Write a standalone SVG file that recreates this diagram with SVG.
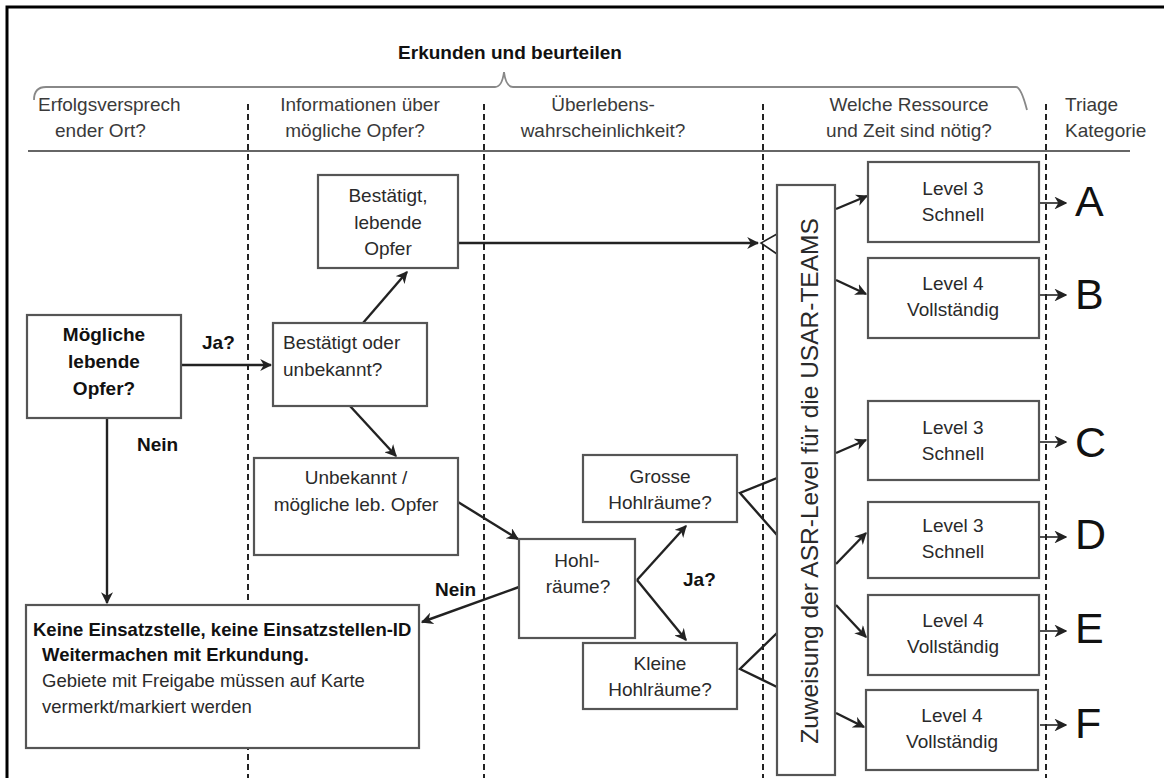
<svg xmlns="http://www.w3.org/2000/svg" width="1164" height="778" viewBox="0 0 1164 778">
<defs>
<style>
text{font-family:"Liberation Sans",Arial,sans-serif;fill:#2a2a2a;font-size:19px}
.b{font-weight:bold;fill:#111}
.m{text-anchor:middle}
.hd{fill:#3a3a3a}
.big{font-size:43px;fill:#111}
.sm{font-size:18.5px}
.vt{font-size:24.5px}
.box{fill:#fff;stroke:#555;stroke-width:2.2}
.c{fill:none;stroke:#222;stroke-width:2.4}
.t{fill:none;stroke:#222;stroke-width:1.6}
.dash{stroke:#222;stroke-width:2;stroke-dasharray:6 4;fill:none}
</style>
<marker id="ah" viewBox="0 0 10 10" refX="9" refY="5" markerWidth="5" markerHeight="5" markerUnits="strokeWidth" orient="auto">
<path d="M0,0 L10,5 L0,10 L3,5 z" fill="#222"/>
</marker>
<marker id="ah2" viewBox="0 0 10 10" refX="9" refY="5" markerWidth="8" markerHeight="8" markerUnits="strokeWidth" orient="auto">
<path d="M0,0 L10,5 L0,10 L3,5 z" fill="#222"/>
</marker>
</defs>
<rect width="1164" height="778" fill="#fff"/>
<path d="M7,778 L7,7 L1164,7" fill="none" stroke="#000" stroke-width="3"/>

<g id="header">
<text class="b m" x="510" y="59">Erkunden und beurteilen</text>
<path d="M34,100 Q34,87 46,87 L495,87 Q502,87 504,72 Q506,87 513,87 L1016,87 Q1021,87 1027,110" fill="none" stroke="#888" stroke-width="1.8"/>
<text class="hd" x="38" y="111">Erfolgsversprech</text>
<text class="hd" x="55" y="137">ender Ort?</text>
<text class="hd m" x="360" y="111">Informationen über</text>
<text class="hd m" x="355" y="137">mögliche Opfer?</text>
<text class="hd m" x="603" y="111">Überlebens-</text>
<text class="hd m" x="603" y="137">wahrscheinlichkeit?</text>
<text class="hd m" x="909" y="111">Welche Ressource</text>
<text class="hd m" x="909" y="137">und Zeit sind nötig?</text>
<text class="hd" x="1065" y="111">Triage</text>
<text class="hd" x="1065" y="137">Kategorie</text>
<line x1="28" y1="151" x2="1130" y2="151" stroke="#666" stroke-width="2"/>
</g>

<g id="lanes">
<line class="dash" x1="248" y1="104" x2="248" y2="778"/>
<line class="dash" x1="484" y1="104" x2="484" y2="778"/>
<line class="dash" x1="763" y1="104" x2="763" y2="778"/>
<line class="dash" x1="1046" y1="104" x2="1046" y2="778"/>
</g>

<g id="connectors">
<line class="c" x1="181" y1="365" x2="271" y2="365" marker-end="url(#ah)"/>
<line class="c" x1="107" y1="418" x2="107" y2="603" marker-end="url(#ah)"/>
<line class="c" x1="363" y1="323" x2="407" y2="272" marker-end="url(#ah)"/>
<line class="c" x1="350" y1="406" x2="396" y2="456" marker-end="url(#ah)"/>
<line class="c" x1="458" y1="243" x2="758" y2="243" marker-end="url(#ah)"/>
<polyline class="t" points="777,234 761,243 777,254"/>
<line class="c" x1="458" y1="502" x2="518" y2="539" marker-end="url(#ah)"/>
<line class="c" x1="519" y1="587" x2="422" y2="622" marker-end="url(#ah)"/>
<line class="c" x1="637" y1="580" x2="686" y2="526" marker-end="url(#ah)"/>
<line class="c" x1="637" y1="580" x2="686" y2="640" marker-end="url(#ah)"/>
<polyline class="c" points="777,478 740,493 777,535"/>
<polyline class="c" points="777,633 740,669 777,687"/>
<line class="c" x1="836" y1="209" x2="867" y2="196" marker-end="url(#ah)"/>
<line class="c" x1="836" y1="280" x2="866" y2="294" marker-end="url(#ah)"/>
<line class="c" x1="836" y1="453" x2="866" y2="440" marker-end="url(#ah)"/>
<line class="c" x1="836" y1="564" x2="866" y2="533" marker-end="url(#ah)"/>
<line class="c" x1="836" y1="605" x2="866" y2="637" marker-end="url(#ah)"/>
<line class="c" x1="836" y1="713" x2="864" y2="727" marker-end="url(#ah)"/>
<line class="t" x1="1040" y1="203" x2="1066" y2="203" marker-end="url(#ah2)"/>
<line class="t" x1="1040" y1="295" x2="1066" y2="295" marker-end="url(#ah2)"/>
<line class="t" x1="1040" y1="442" x2="1066" y2="442" marker-end="url(#ah2)"/>
<line class="t" x1="1040" y1="537" x2="1066" y2="537" marker-end="url(#ah2)"/>
<line class="t" x1="1040" y1="631" x2="1066" y2="631" marker-end="url(#ah2)"/>
<line class="t" x1="1040" y1="725" x2="1066" y2="725" marker-end="url(#ah2)"/>
<text class="b" x="202" y="349">Ja?</text>
<text class="b" x="137" y="451">Nein</text>
<text class="b" x="435" y="596">Nein</text>
<text class="b" x="683" y="586">Ja?</text>
</g>

<g id="n-moegliche">
<rect class="box" x="27" y="315" width="154" height="103"/>
<text class="b m" x="104" y="341">Mögliche</text>
<text class="b m" x="104" y="368">lebende</text>
<text class="b m" x="104" y="395">Opfer?</text>
</g>
<g id="n-bestaetigt-lebend">
<rect class="box" x="318" y="175" width="140" height="93"/>
<text class="m" x="388" y="202">Bestätigt,</text>
<text class="m" x="388" y="229">lebende</text>
<text class="m" x="388" y="255">Opfer</text>
</g>
<g id="n-bestaetigt-oder">
<rect class="box" x="273" y="323" width="154" height="83"/>
<text x="283" y="349">Bestätigt oder</text>
<text x="283" y="376">unbekannt?</text>
</g>
<g id="n-unbekannt">
<rect class="box" x="254" y="458" width="204" height="97"/>
<text class="m" x="356" y="484">Unbekannt /</text>
<text class="m" x="356" y="511">mögliche leb. Opfer</text>
</g>
<g id="n-keine">
<rect class="box" x="26" y="605" width="393" height="143"/>
<text class="b sm" x="33" y="636">Keine Einsatzstelle, keine Einsatzstellen-ID</text>
<text class="b sm" x="42" y="661">Weitermachen mit Erkundung.</text>
<text class="sm" x="42" y="687">Gebiete mit Freigabe müssen auf Karte</text>
<text class="sm" x="42" y="713">vermerkt/markiert werden</text>
</g>
<g id="n-hohlraeume">
<rect class="box" x="519" y="539" width="116" height="99"/>
<text class="m" x="577" y="567">Hohl-</text>
<text class="m" x="578" y="593">räume?</text>
</g>
<g id="n-grosse">
<rect class="box" x="583" y="455" width="154" height="67"/>
<text class="m" x="660" y="483">Grosse</text>
<text class="m" x="660" y="509">Hohlräume?</text>
</g>
<g id="n-kleine">
<rect class="box" x="583" y="643" width="154" height="66"/>
<text class="m" x="660" y="670">Kleine</text>
<text class="m" x="660" y="696">Hohlräume?</text>
</g>
<g id="n-asr">
<rect class="box" x="777" y="185" width="58" height="590"/>
<text class="m vt" transform="translate(818,481) rotate(-90)">Zuweisung der ASR-Level für die USAR-TEAMS</text>
</g>
<g id="n-levelA">
<rect class="box" x="868" y="162" width="171" height="80"/>
<text class="m" x="953" y="195">Level 3</text>
<text class="m" x="953" y="221">Schnell</text>
</g>
<g id="n-levelB">
<rect class="box" x="868" y="258" width="171" height="80"/>
<text class="m" x="953" y="290">Level 4</text>
<text class="m" x="953" y="316">Vollständig</text>
</g>
<g id="n-levelC">
<rect class="box" x="868" y="401" width="171" height="79"/>
<text class="m" x="953" y="434">Level 3</text>
<text class="m" x="953" y="460">Schnell</text>
</g>
<g id="n-levelD">
<rect class="box" x="868" y="502" width="171" height="76"/>
<text class="m" x="953" y="532">Level 3</text>
<text class="m" x="953" y="558">Schnell</text>
</g>
<g id="n-levelE">
<rect class="box" x="868" y="595" width="171" height="80"/>
<text class="m" x="953" y="627">Level 4</text>
<text class="m" x="953" y="653">Vollständig</text>
</g>
<g id="n-levelF">
<rect class="box" x="866" y="690" width="172" height="80"/>
<text class="m" x="952" y="722">Level 4</text>
<text class="m" x="952" y="748">Vollständig</text>
</g>
<g id="triage">
<text class="big" x="1075" y="216">A</text>
<text class="big" x="1075" y="309">B</text>
<text class="big" x="1075" y="457">C</text>
<text class="big" x="1075" y="549">D</text>
<text class="big" x="1075" y="643">E</text>
<text class="big" x="1075" y="738">F</text>
</g>
</svg>
